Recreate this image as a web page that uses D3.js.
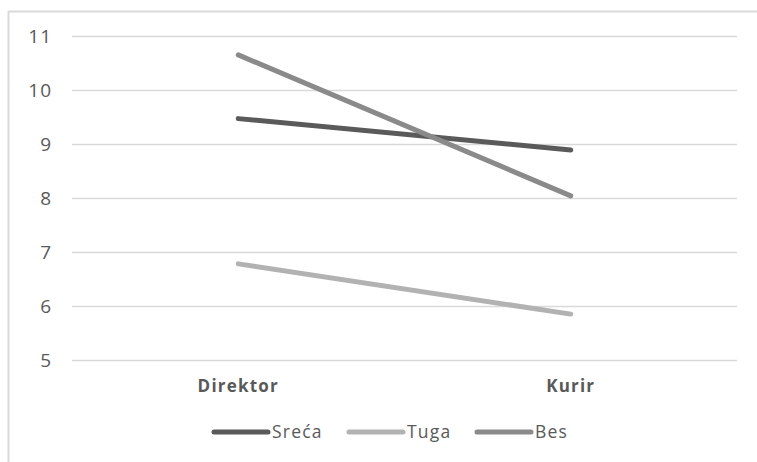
<!DOCTYPE html>
<html>
<head>
<meta charset="utf-8">
<script src="https://cdn.jsdelivr.net/npm/d3@7"></script>
<style>
  html, body { margin: 0; padding: 0; background: #fff; }
  svg { display: block; }
  svg text { font-family: "Open Sans", "Noto Sans", sans-serif; }
</style>
</head>
<body>
<svg id="chart" width="757" height="462"></svg>
<script>
const categories = ["Direktor", "Kurir"];
const seriesNames = ["Sreća", "Tuga", "Bes"];
const srecaValues = [9.47, 8.89];
const tugaValues = [6.78, 5.85];
const besValues = [10.65, 8.04];
const yTicks = [5, 6, 7, 8, 9, 10, 11];
const seriesColors = ["#5a5a5a", "#b2b2b2", "#8a8a8a"];

const series = [srecaValues, tugaValues, besValues].map((vals, i) => ({
  name: seriesNames[i],
  color: seriesColors[i],
  values: vals.map((v, j) => ({ cat: categories[j], v }))
}));

const svg = d3.select("#chart");
const W = 757, H = 462;
const plot = { left: 72, right: 737, top: 36, bottom: 360 };

// chart frame: top and left edges
svg.append("line").attr("x1", 8.5).attr("x2", W).attr("y1", 11.5).attr("y2", 11.5)
  .attr("stroke", "#d9d9d9").attr("stroke-width", 2);
svg.append("line").attr("x1", 8.5).attr("x2", 8.5).attr("y1", 11).attr("y2", H)
  .attr("stroke", "#d9d9d9").attr("stroke-width", 2);

const x = d3.scaleBand().domain(categories).range([plot.left, plot.right]);
const y = d3.scaleLinear().domain([5, 11]).range([plot.bottom, plot.top]);

// horizontal gridlines with value labels
const yAxis = d3.axisLeft(y).tickValues(yTicks).tickFormat(d3.format("d"))
  .tickSize(-(plot.right - plot.left)).tickPadding(20);
const gy = svg.append("g").attr("transform", `translate(${plot.left},0)`).call(yAxis);
gy.select(".domain").remove();
gy.selectAll(".tick line").attr("stroke", "#d9d9d9").attr("stroke-width", 1.5);
gy.selectAll(".tick text")
  .attr("fill", "#595959")
  .style("font-family", "'Open Sans', sans-serif")
  .style("font-size", "19px")
  .style("letter-spacing", "1px");

// category labels
const xAxis = d3.axisBottom(x).tickSize(0).tickPadding(20);
const gx = svg.append("g").attr("transform", `translate(0,${plot.bottom})`).call(xAxis);
gx.select(".domain").remove();
gx.selectAll(".tick text")
  .attr("fill", "#595959")
  .style("font-family", "'Open Sans', sans-serif")
  .style("font-size", "17px")
  .style("font-weight", "bold")
  .style("letter-spacing", "1.2px");

// series lines
const line = d3.line().x(d => x(d.cat) + x.bandwidth() / 2).y(d => y(d.v));
svg.append("g").selectAll("path").data(series).join("path")
  .attr("d", d => line(d.values))
  .attr("fill", "none")
  .attr("stroke", d => d.color)
  .attr("stroke-width", 5)
  .attr("stroke-linecap", "round");

// legend
const legendX = [212, 347, 475];
const legendY = 432;
const lg = svg.append("g").selectAll("g").data(series).join("g")
  .attr("transform", (d, i) => `translate(${legendX[i]},${legendY})`);
lg.append("line").attr("x1", 2).attr("x2", 56).attr("y1", 0).attr("y2", 0)
  .attr("stroke", d => d.color).attr("stroke-width", 5).attr("stroke-linecap", "round");
lg.append("text").attr("x", 60).attr("y", 0).attr("dy", "0.35em")
  .attr("fill", "#595959")
  .style("font-size", "17.5px")
  .style("letter-spacing", "1.2px")
  .text(d => d.name);
</script>
</body>
</html>
